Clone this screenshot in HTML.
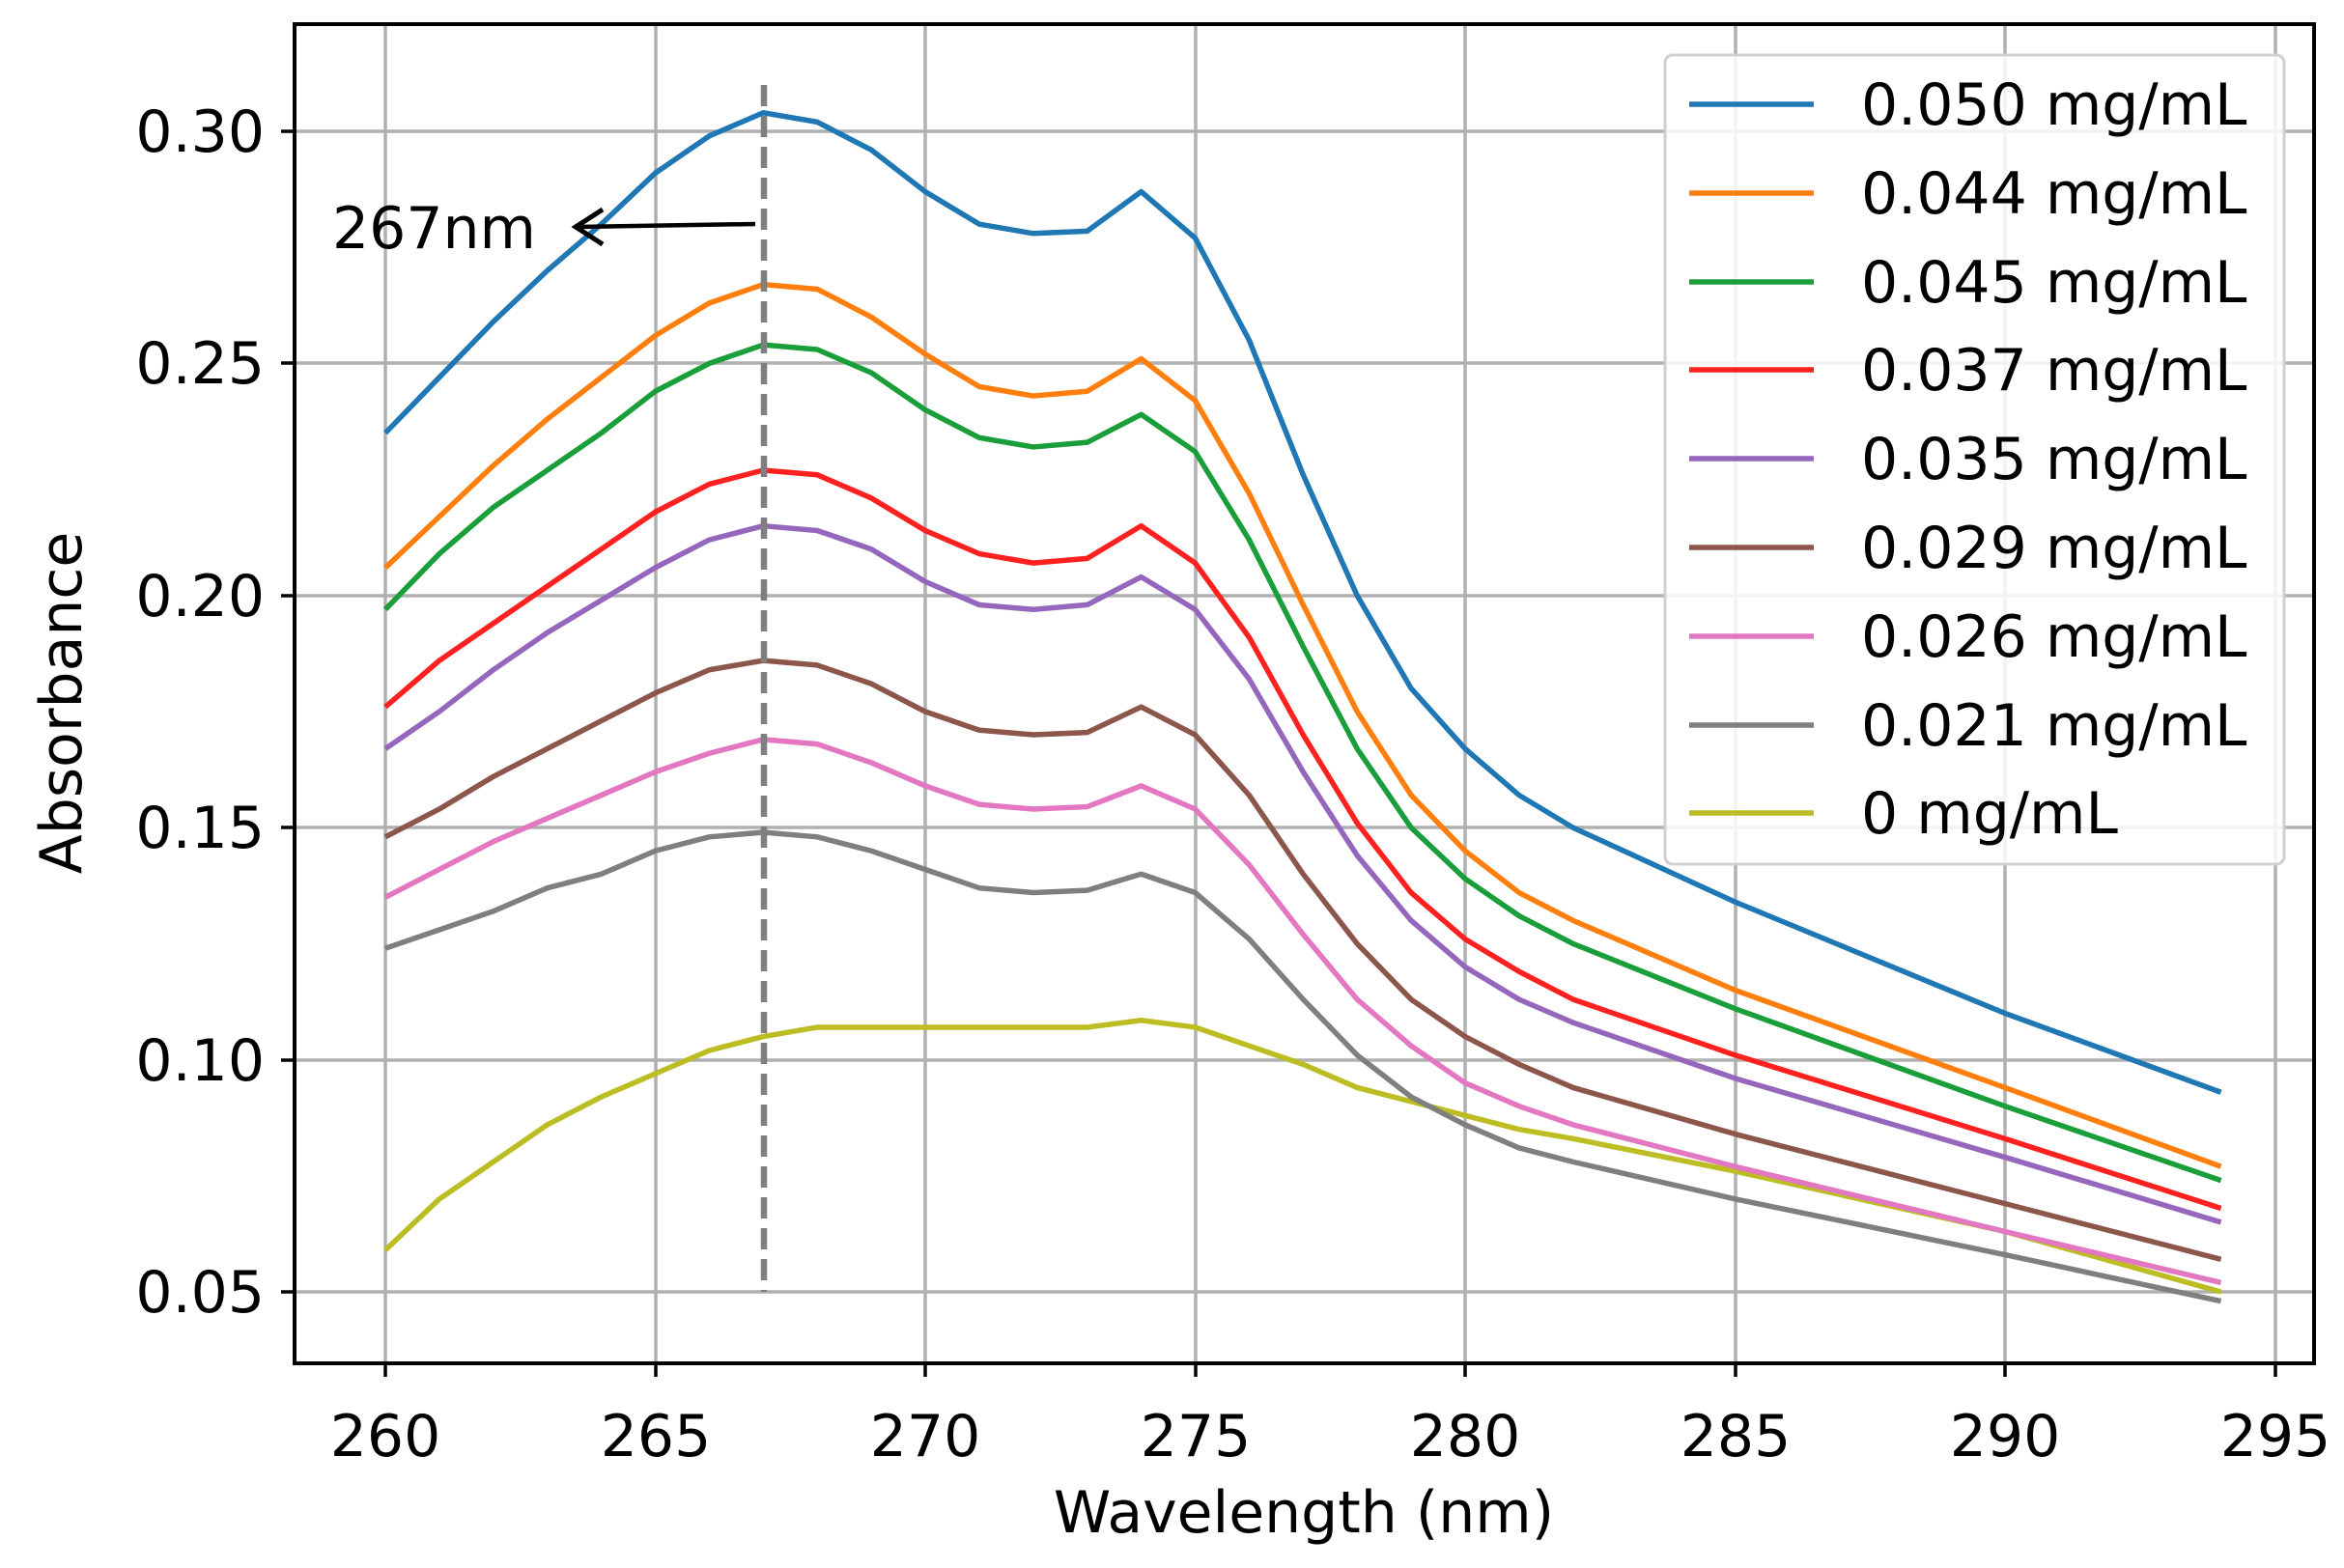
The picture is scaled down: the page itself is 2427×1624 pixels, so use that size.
<!DOCTYPE html>
<html><head><meta charset="utf-8"><style>body{margin:0;background:#fff}svg{display:block}</style></head><body>
<svg width="2427" height="1624" viewBox="0 0 2427 1624" xmlns="http://www.w3.org/2000/svg" font-family="DejaVu Sans, Liberation Sans, sans-serif">
<rect width="2427" height="1624" fill="#fff"/>
<g stroke="#b0b0b0" stroke-width="3.5">
<line x1="399" y1="25" x2="399" y2="1412"/><line x1="679" y1="25" x2="679" y2="1412"/><line x1="958" y1="25" x2="958" y2="1412"/><line x1="1238" y1="25" x2="1238" y2="1412"/><line x1="1517" y1="25" x2="1517" y2="1412"/><line x1="1797" y1="25" x2="1797" y2="1412"/><line x1="2076" y1="25" x2="2076" y2="1412"/><line x1="2356" y1="25" x2="2356" y2="1412"/>
<line x1="305" y1="136" x2="2396" y2="136"/><line x1="305" y1="376" x2="2396" y2="376"/><line x1="305" y1="617" x2="2396" y2="617"/><line x1="305" y1="857" x2="2396" y2="857"/><line x1="305" y1="1098" x2="2396" y2="1098"/><line x1="305" y1="1338" x2="2396" y2="1338"/>
</g>
<g fill="none" stroke-width="5.5" stroke-linejoin="round" transform="matrix(55.9 0 0 -4808 -14135 1578.4)">
<polyline vector-effect="non-scaling-stroke" stroke="#bcbd22" points="260,.059 261,.070 262,.078 263,.086 264,.092 265,.097 266,.102 267,.105 268,.107 269,.107 270,.107 271,.107 272,.107 273,.107 274,.1085 275,.107 276,.103 277,.099 278,.094 279,.091 280,.088 281,.085 282,.083 285,.076 290,.063 294,.050"/>
<polyline vector-effect="non-scaling-stroke" stroke="#7f7f7f" points="260,.124 261,.128 262,.132 263,.137 264,.140 265,.145 266,.148 267,.149 268,.148 269,.145 270,.141 271,.137 272,.136 273,.1365 274,.140 275,.136 276,.126 277,.113 278,.101 279,.092 280,.086 281,.081 282,.078 285,.070 290,.058 294,.048"/>
<polyline vector-effect="non-scaling-stroke" stroke="#e377c2" points="260,.135 261,.141 262,.147 263,.152 264,.157 265,.162 266,.166 267,.169 268,.168 269,.164 270,.159 271,.155 272,.154 273,.1545 274,.159 275,.154 276,.142 277,.127 278,.113 279,.103 280,.095 281,.090 282,.086 285,.077 290,.063 294,.052"/>
<polyline vector-effect="non-scaling-stroke" stroke="#8c564b" points="260,.148 261,.154 262,.161 263,.167 264,.173 265,.179 266,.184 267,.186 268,.185 269,.181 270,.175 271,.171 272,.170 273,.1705 274,.176 275,.170 276,.157 277,.140 278,.125 279,.113 280,.105 281,.099 282,.094 285,.084 290,.069 294,.057"/>
<polyline vector-effect="non-scaling-stroke" stroke="#9467bd" points="260,.167 261,.175 262,.184 263,.192 264,.199 265,.206 266,.212 267,.215 268,.214 269,.210 270,.203 271,.198 272,.197 273,.198 274,.204 275,.197 276,.182 277,.162 278,.144 279,.130 280,.120 281,.113 282,.108 285,.096 290,.079 294,.065"/>
<polyline vector-effect="non-scaling-stroke" stroke="#ff2020" points="260,.176 261,.186 262,.194 263,.202 264,.210 265,.218 266,.224 267,.227 268,.226 269,.221 270,.214 271,.209 272,.207 273,.208 274,.215 275,.207 276,.191 277,.170 278,.151 279,.136 280,.126 281,.119 282,.113 285,.101 290,.083 294,.068"/>
<polyline vector-effect="non-scaling-stroke" stroke="#1a9e3a" points="260,.197 261,.209 262,.219 263,.227 264,.235 265,.244 266,.250 267,.254 268,.253 269,.248 270,.240 271,.234 272,.232 273,.233 274,.239 275,.231 276,.212 277,.189 278,.167 279,.150 280,.139 281,.131 282,.125 285,.111 290,.090 294,.074"/>
<polyline vector-effect="non-scaling-stroke" stroke="#ff7f0e" points="260,.206 261,.217 262,.228 263,.238 264,.247 265,.256 266,.263 267,.267 268,.266 269,.260 270,.252 271,.245 272,.243 273,.244 274,.251 275,.242 276,.222 277,.198 278,.175 279,.157 280,.145 281,.136 282,.130 285,.115 290,.094 294,.077"/>
<polyline vector-effect="non-scaling-stroke" stroke="#1f77b4" points="260,.235 261,.247 262,.259 263,.270 264,.280 265,.291 266,.299 267,.304 268,.302 269,.296 270,.287 271,.280 272,.278 273,.2785 274,.287 275,.277 276,.255 277,.226 278,.200 279,.180 280,.167 281,.157 282,.150 285,.134 290,.110 294,.093"/>
</g>
<line x1="791" y1="88" x2="791" y2="1338" stroke="#7f7f7f" stroke-width="6.5" stroke-dasharray="22,10"/>
<line x1="782" y1="232" x2="598" y2="235" stroke="#000" stroke-width="4.5"/>
<polyline points="624,217 596,235 624,253" fill="none" stroke="#000" stroke-width="5"/>
<text x="344" y="257" font-size="60">267nm</text>
<rect x="305" y="25" width="2091" height="1387" fill="none" stroke="#000" stroke-width="4"/>
<g stroke="#000" stroke-width="3.5">
<line x1="399" y1="1412" x2="399" y2="1426"/><line x1="679" y1="1412" x2="679" y2="1426"/><line x1="958" y1="1412" x2="958" y2="1426"/><line x1="1238" y1="1412" x2="1238" y2="1426"/><line x1="1517" y1="1412" x2="1517" y2="1426"/><line x1="1797" y1="1412" x2="1797" y2="1426"/><line x1="2076" y1="1412" x2="2076" y2="1426"/><line x1="2356" y1="1412" x2="2356" y2="1426"/>
<line x1="291" y1="136" x2="305" y2="136"/><line x1="291" y1="376" x2="305" y2="376"/><line x1="291" y1="617" x2="305" y2="617"/><line x1="291" y1="857" x2="305" y2="857"/><line x1="291" y1="1098" x2="305" y2="1098"/><line x1="291" y1="1338" x2="305" y2="1338"/>
</g>
<g font-size="60" text-anchor="middle">
<text x="399" y="1508">260</text><text x="679" y="1508">265</text><text x="958" y="1508">270</text><text x="1238" y="1508">275</text><text x="1517" y="1508">280</text><text x="1797" y="1508">285</text><text x="2076" y="1508">290</text><text x="2356" y="1508">295</text>
<text x="1350" y="1587">Wavelength (nm)</text>
<text transform="translate(84,728) rotate(-90)">Absorbance</text>
</g>
<g font-size="60" text-anchor="end">
<text x="274" y="157">0.30</text><text x="274" y="397">0.25</text><text x="274" y="638">0.20</text><text x="274" y="878">0.15</text><text x="274" y="1119">0.10</text><text x="274" y="1359">0.05</text>
</g>
<rect x="1724" y="57" width="641" height="838" rx="8" fill="#fff" fill-opacity="0.85" stroke="#d0d0d0" stroke-width="3"/>
<g stroke-width="5.5">
<line x1="1749" y1="108" x2="1878" y2="108" stroke="#1f77b4"/>
<line x1="1749" y1="200" x2="1878" y2="200" stroke="#ff7f0e"/>
<line x1="1749" y1="292" x2="1878" y2="292" stroke="#1a9e3a"/>
<line x1="1749" y1="383" x2="1878" y2="383" stroke="#ff2020"/>
<line x1="1749" y1="475" x2="1878" y2="475" stroke="#9467bd"/>
<line x1="1749" y1="567" x2="1878" y2="567" stroke="#8c564b"/>
<line x1="1749" y1="659" x2="1878" y2="659" stroke="#e377c2"/>
<line x1="1749" y1="751" x2="1878" y2="751" stroke="#7f7f7f"/>
<line x1="1749" y1="842" x2="1878" y2="842" stroke="#bcbd22"/>
</g>
<g font-size="60">
<text x="1927" y="129">0.050 mg/mL</text><text x="1927" y="221">0.044 mg/mL</text><text x="1927" y="313">0.045 mg/mL</text><text x="1927" y="404">0.037 mg/mL</text><text x="1927" y="496">0.035 mg/mL</text><text x="1927" y="588">0.029 mg/mL</text><text x="1927" y="680">0.026 mg/mL</text><text x="1927" y="772">0.021 mg/mL</text><text x="1927" y="863">0 mg/mL</text>
</g>
</svg>
</body></html>
